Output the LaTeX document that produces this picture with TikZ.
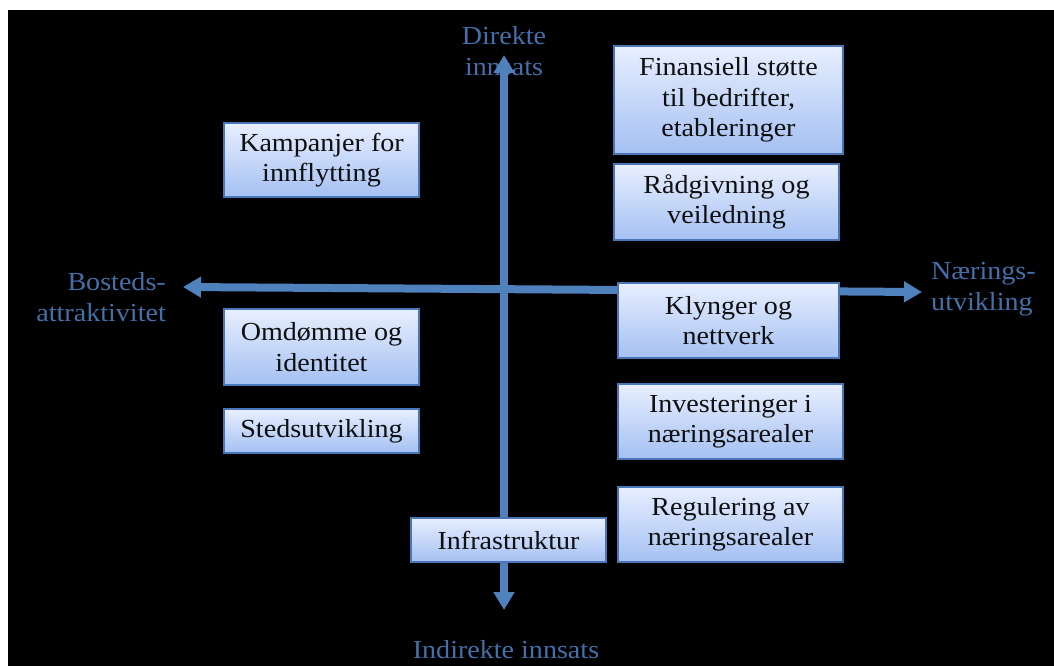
\documentclass[tikz,border=0pt]{standalone}
\usepackage{fontspec}
\setmainfont[FakeStretch=1.08]{Liberation Serif}
\usetikzlibrary{arrows.meta}
\definecolor{axisblue}{RGB}{79,129,189}
\definecolor{labelblue}{RGB}{68,111,168}
\definecolor{boxtop}{RGB}{232,239,255}
\definecolor{boxbot}{RGB}{164,192,242}
\definecolor{boxedge}{RGB}{72,118,182}
\definecolor{boxtext}{RGB}{15,15,15}
\tikzset{
  card/.style={draw=boxedge, line width=1.5pt, top color=boxtop, bottom color=boxbot,
    inner sep=0pt, align=center, text=boxtext,
    font=\fontsize{26}{30.5}\selectfont},
  axislabel/.style={text=labelblue, inner sep=0pt, font=\fontsize{26}{31}\selectfont},
  axis/.style={draw=axisblue, line width=8pt, {Triangle[width=20pt,length=18pt]}-{Triangle[width=20pt,length=18pt]}}
}
\begin{document}
\begin{tikzpicture}[x=1pt,y=-1pt]
\useasboundingbox (0,0) rectangle (1054,666);
\fill[white] (0,0) rectangle (1054,666);
\fill[black] (8,10) rectangle (1054,666);

% axis labels
\node[axislabel, align=center] (top) at (504,51) {Direkte\\innsats};
\node[axislabel] (bottom) at (506,650) {Indirekte innsats};
\node[axislabel, align=right, anchor=east] (left) at (166,297) {Bosteds-\\attraktivitet};
\node[axislabel, align=left, anchor=west] (right) at (931,289) {Nærings-\\utvikling};

% axes
\coordinate (ytop) at (504,55);
\coordinate (ybot) at (504,610);
\coordinate (xleft) at (183,287);
\coordinate (xright) at (922,292);
\draw[axis] (ybot) -- (ytop);
\draw[axis] (xleft) -- (xright);

% measures
\node[card, minimum width=229pt, minimum height=108pt] (fin) at (728.5,100) {Finansiell støtte\\til bedrifter,\\etableringer};
\node[card, minimum width=225pt, minimum height=76pt] (raad) at (726.5,202) {Rådgivning og\\veiledning};
\node[card, minimum width=195pt, minimum height=74pt] (kamp) at (321.5,160) {Kampanjer for\\innflytting};
\node[card, minimum width=195pt, minimum height=76pt] (omd) at (321.5,347) {Omdømme og\\identitet};
\node[card, minimum width=195pt, minimum height=44pt] (sted) at (321.5,431) {Stedsutvikling};
\node[card, minimum width=221pt, minimum height=75pt] (klyng) at (728.5,320.5) {Klynger og\\nettverk};
\node[card, minimum width=225pt, minimum height=75pt] (inv) at (730.5,421.5) {Investeringer i\\næringsarealer};
\node[card, minimum width=225pt, minimum height=75pt] (reg) at (730.5,524.5) {Regulering av\\næringsarealer};
\node[card, minimum width=195pt, minimum height=44pt] (infra) at (508.5,540) {Infrastruktur};
\end{tikzpicture}
\end{document}
